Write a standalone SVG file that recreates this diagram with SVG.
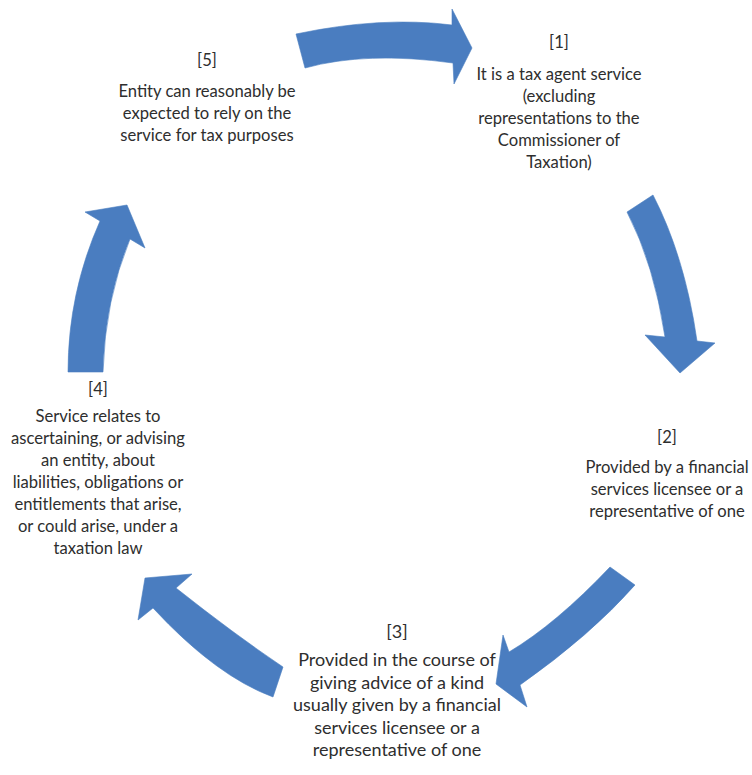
<svg xmlns="http://www.w3.org/2000/svg" width="752" height="775" viewBox="0 0 752 775">
<style>
.bg{fill:#ffffff}
.arr{fill:#4a7dc0;stroke:#4a7dc0;stroke-width:0.6;stroke-linejoin:round}
text{font-family:Lato,"Open Sans","Liberation Sans",sans-serif;font-size:16.6px;fill:#2e2e2e;text-anchor:middle}
.big{font-size:18px}
</style>
<rect class="bg" x="0" y="0" width="752" height="775"/>
<g id="connectors">
<path id="arrow-5-1" class="arr" d="M296,34 Q381,16 452,25 L452,9 L472,48 L454,84 L453,63 Q366,51 305,68 Z"/>
<path id="arrow-1-2" class="arr" d="M653,195 Q685,257 697,341 L715,343 L680,373 L645,335 L665,337 Q654,264 627,212 Z"/>
<path id="arrow-2-3" class="arr" d="M610,567 Q556,624 509,652 L503,635 L496,684 L527,707 L520,685 Q591,635 635,585 Z"/>
<path id="arrow-3-4" class="arr" d="M283,667 Q234,634 176,588 L192,574 L145,578 L138,620 L153,608 Q216,676 273,697 Z"/>
<path id="arrow-4-5" class="arr" d="M68,372 Q68,293 100,221 L85,212 L127,205 L145,248 L130,239 Q105,300 103,372 Z"/>
</g>
<g id="node-1">
<text x="559" y="48">[1]</text>
<text x="559" y="80">It is a tax agent service</text>
<text x="559" y="102">(excluding</text>
<text x="559" y="124">representations to the</text>
<text x="559" y="146">Commissioner of</text>
<text x="559" y="168">Taxation)</text>
</g>
<g id="node-2">
<text x="667" y="443">[2]</text>
<text x="667" y="473">Provided by a financial</text>
<text x="667" y="495">services licensee or a</text>
<text x="667" y="517">representative of one</text>
</g>
<g id="node-3">
<text class="big" x="397" y="638">[3]</text>
<text class="big" x="397" y="666">Provided in the course of</text>
<text class="big" x="397" y="688.5">giving advice of a kind</text>
<text class="big" x="397" y="711">usually given by a financial</text>
<text class="big" x="397" y="733.5">services licensee or a</text>
<text class="big" x="397" y="756">representative of one</text>
</g>
<g id="node-4">
<text x="98" y="395">[4]</text>
<text x="98" y="422">Service relates to</text>
<text x="98" y="444">ascertaining, or advising</text>
<text x="98" y="466">an entity, about</text>
<text x="98" y="488">liabilities, obligations or</text>
<text x="98" y="510">entitlements that arise,</text>
<text x="98" y="532">or could arise, under a</text>
<text x="98" y="554">taxation law</text>
</g>
<g id="node-5">
<text x="207" y="66">[5]</text>
<text x="207" y="97">Entity can reasonably be</text>
<text x="207" y="119">expected to rely on the</text>
<text x="207" y="141">service for tax purposes</text>
</g>
</svg>
